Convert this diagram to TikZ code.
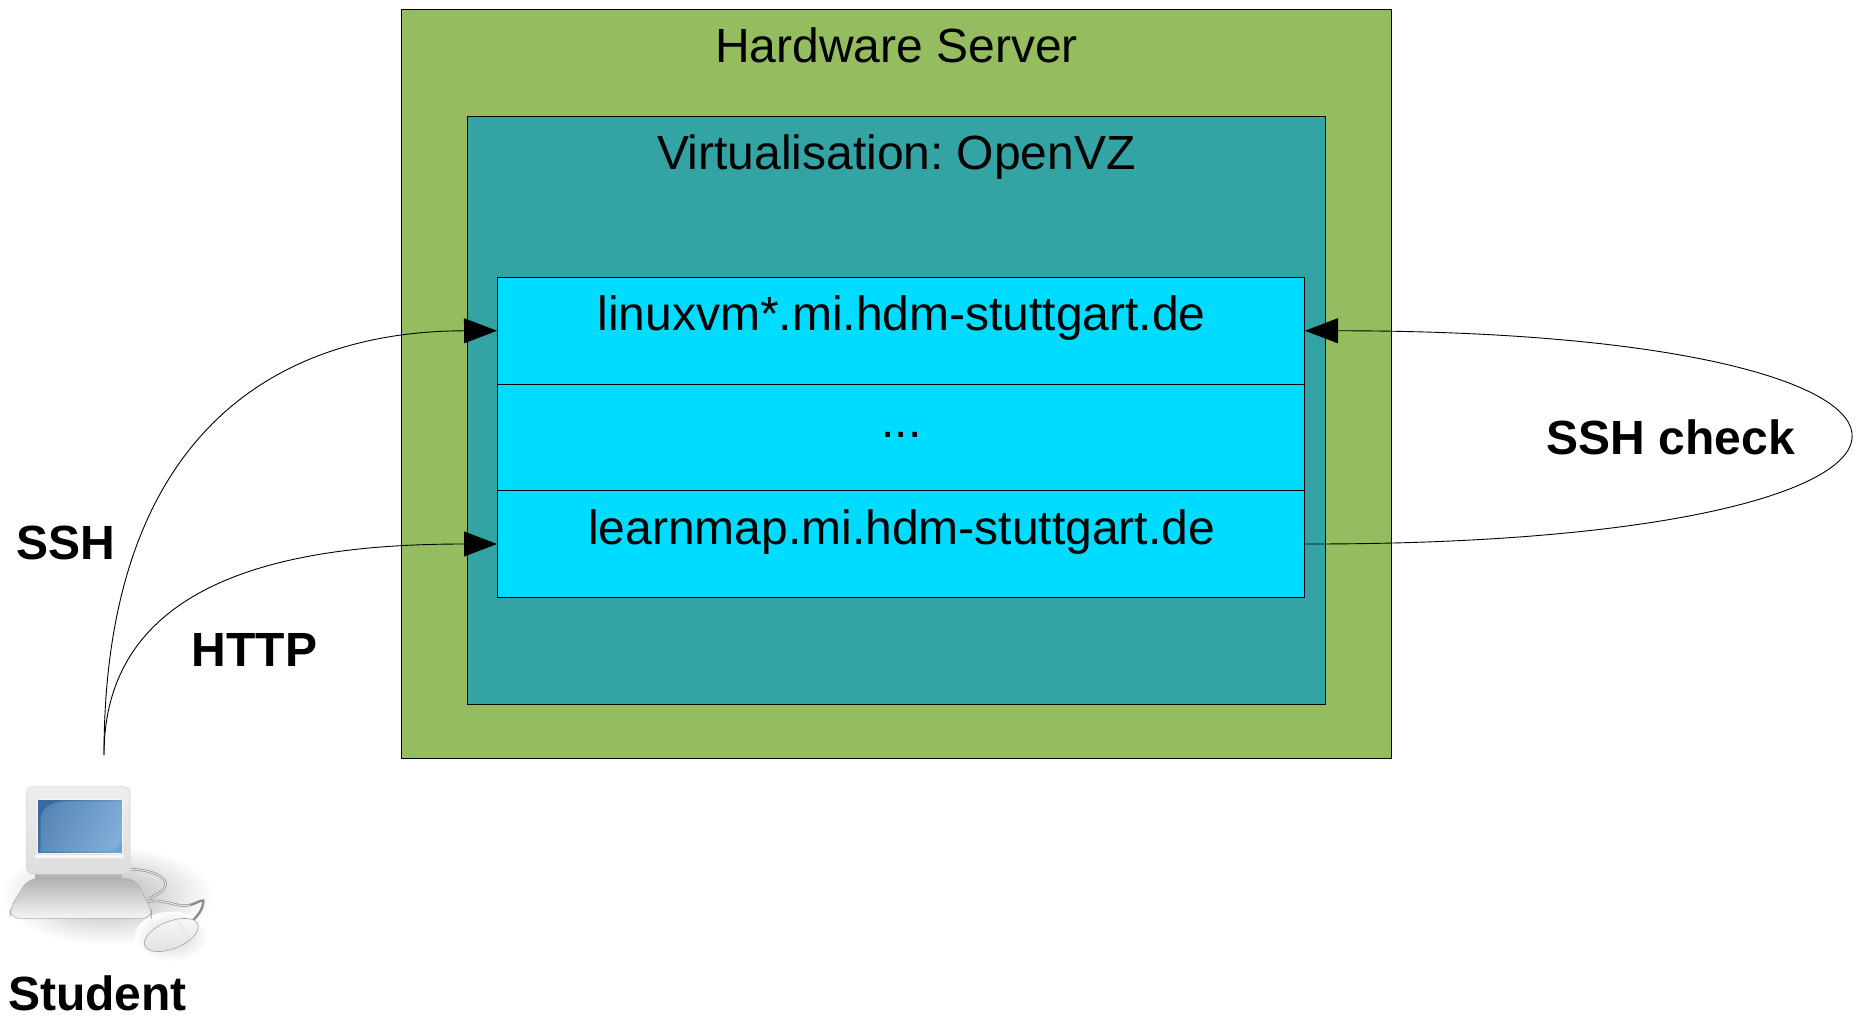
\documentclass[tikz,border=0pt]{standalone}
\usepackage{fontspec}
\setmainfont{Liberation Sans}
\usetikzlibrary{arrows.meta}
\definecolor{hwgreen}{HTML}{95BD60}
\definecolor{vzteal}{HTML}{33A3A3}
\definecolor{vmcyan}{HTML}{00DCFF}
\definecolor{scrdark}{HTML}{376A9F}
\definecolor{scrlight}{HTML}{6FA4D2}
\definecolor{scrhigh}{HTML}{A4C8E8}
\tikzset{
  box/.style={draw=black,line width=1pt,rectangle,inner sep=0pt,anchor=north west},
  lbl/.style={font=\fontsize{48}{58}\selectfont,text=black,inner sep=0pt,anchor=base},
  blbl/.style={font=\fontsize{48}{58}\selectfont\bfseries,text=black,inner sep=0pt,anchor=base},
  link/.style={draw=black,line width=0.9pt,-{Triangle[length=33pt,width=25pt]}}
}
\begin{document}
\begin{tikzpicture}[x=1pt,y=-1pt]
\useasboundingbox (0,0) rectangle (1859,1016);
% boxes
\node[box,fill=hwgreen,minimum width=990pt,minimum height=748pt] (hw) at (401,9.5) {};
\node[box,fill=vzteal,minimum width=858pt,minimum height=588pt] (vz) at (467,116.3) {};
\node[box,fill=vmcyan,minimum width=807pt,minimum height=106.5pt] (rowa) at (497,277) {};
\node[box,fill=vmcyan,minimum width=807pt,minimum height=106.5pt] (rowb) at (497,383.5) {};
\node[box,fill=vmcyan,minimum width=807pt,minimum height=107pt] (rowc) at (497,490) {};
% box labels
\node[lbl] (hwt) at (896.5,63) {Hardware Server};
\node[lbl] (vzt) at (896.5,170) {V\kern-1.5pt irtualisation:\hspace{-5pt} OpenVZ};
\node[lbl] (rat) at (901.5,330) {linuxvm*.mi.hdm-stuttgart.de};
\node[lbl] (rbt) at (901.5,437) {...};
\node[lbl] (rct) at (901.5,544) {learnmap.mi.hdm-stuttgart.de};
% free end
\coordinate (st) at (104,755);
% connectors
\draw[link] (st) .. controls (104,430) and (280,331) .. (rowa.west);
\draw[link] (st) .. controls (104,570) and (309,544) .. (rowc.west);
\draw[link] (rowc.east) .. controls (2029,545) and (2029,331) .. (rowa.east);
% connector labels
\node[blbl] (ssh) at (65.5,559) {SSH};
\node[blbl] (http) at (254.5,666) {HTTP};
\node[blbl] (chk) at (1671,454) {SSH check};
\node[blbl] (stu) at (97.5,1010) {Student};
% laptop
\begin{scope}[yshift=-740pt,x=0.33333pt,y=-0.33333pt]
  \shade[inner color=black!30,outer color=white] (320,465) ellipse [x radius=320,y radius=150];
  \shade[inner color=black!18,outer color=white] (515,590) ellipse [x radius=110,y radius=75];
  % cables
  \draw[black!45,line width=2.4pt,line cap=round] (385,388) .. controls (440,385) and (510,410) .. (495,440) .. controls (485,465) and (450,465) .. (445,485) .. controls (500,475) and (530,505) .. (570,495) .. controls (590,490) and (600,480) .. (610,482) .. controls (610,510) and (590,530) .. (575,545);
  \draw[black!10,line width=1.1pt,line cap=round] (385,388) .. controls (440,385) and (510,410) .. (495,440) .. controls (485,465) and (450,465) .. (445,485) .. controls (500,475) and (530,505) .. (570,495);
  % stand
  \fill[black!30] (105,400) rectangle (365,418);
  % monitor
  \draw[black!16,line width=0.6pt,rounded corners=6pt,top color=black!7,bottom color=black!13] (80,140) rectangle (390,402);
  \fill[black!3] (105,345) rectangle (372,354);
  % screen
  \shade[shading=axis,left color=scrdark,right color=scrlight,shading angle=65] (113,178) rectangle (367,340);
  \fill[scrhigh,opacity=0.3] (122,228) .. controls (135,195) and (160,184) .. (215,184) -- (367,184) -- (367,300) .. controls (355,325) and (340,335) .. (300,335) -- (122,335) -- cycle;
  \draw[black!3,line width=1pt] (113,178) rectangle (367,340);
  % keyboard base
  \path[draw=black!32,line width=0.6pt,rounded corners=9pt,top color=black!30,bottom color=black!4] (85,416) -- (405,416) -- (455,510) -- (455,535) -- (30,535) -- (30,505) -- cycle;
  % mouse
  \begin{scope}[shift={(514,585)},rotate=22]
    \draw[black!35,line width=0.6pt,top color=black!3,bottom color=black!12] (0,0) ellipse [x radius=86,y radius=41];
    \draw[black!15,line width=0.4pt] (32,-36) -- (46,33);
  \end{scope}
\end{scope}
\end{tikzpicture}
\end{document}
